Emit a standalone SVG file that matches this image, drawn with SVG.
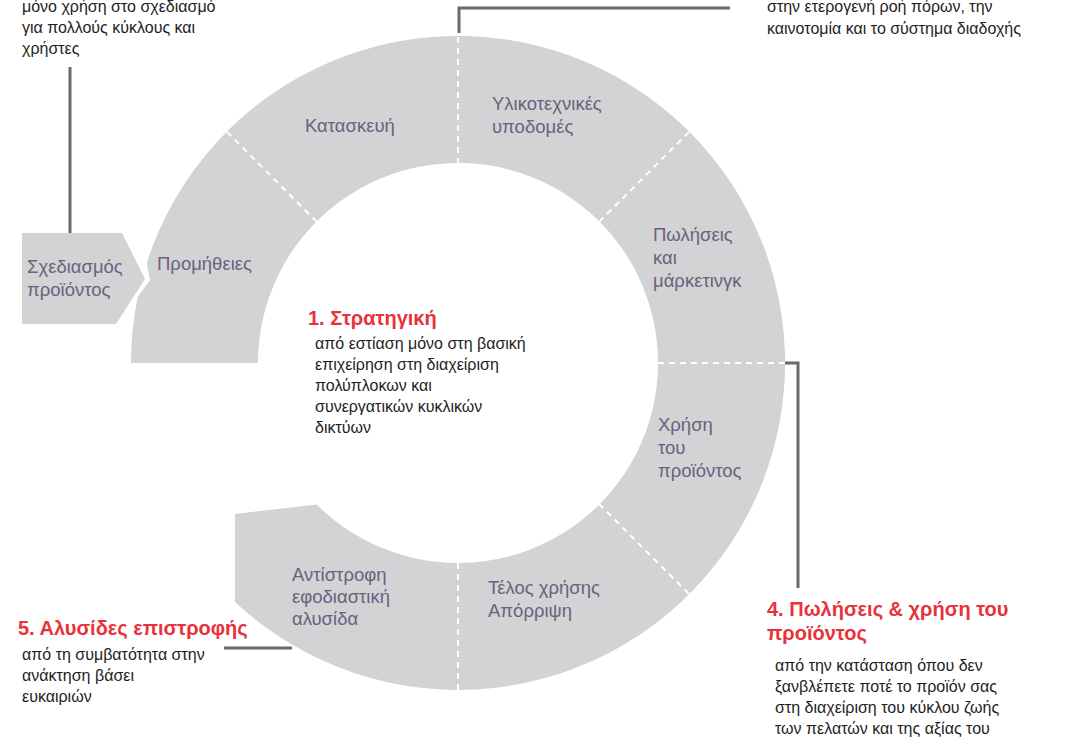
<svg xmlns="http://www.w3.org/2000/svg" width="1079" height="737" viewBox="0 0 1079 737">
<style>
.shape{fill:#d1d3d4;}
.div{stroke:#ffffff;stroke-width:2;stroke-dasharray:6 5;fill:none;}
.con{stroke:#6a6a6a;stroke-width:3;fill:none;}
.lbl{font-family:"Liberation Sans",Arial,sans-serif;font-size:18.5px;fill:#6e5f7e;}
.body{font-family:"Liberation Sans",Arial,sans-serif;font-size:16px;fill:#1e1e1e;}
.head{font-family:"Liberation Sans",Arial,sans-serif;font-size:20px;font-weight:bold;fill:#e8323a;}
</style>
<rect width="1079" height="737" fill="#ffffff"/>
<g id="ring">
<path class="shape" d="M131,363 A327,327 0 0 1 137.7,297 L150,280 L146.7,263 A327,327 0 1 1 235,602 L235,514 L316.6,504.4 A200,200 0 1 0 258,363 Z"/>
<line class="div" x1="458" y1="37" x2="458" y2="163"/>
<line class="div" x1="227" y1="132" x2="317" y2="222"/>
<line class="div" x1="689" y1="132" x2="599" y2="222"/>
<line class="div" x1="658" y1="363" x2="785" y2="363"/>
<line class="div" x1="599" y1="504" x2="689" y2="594"/>
<line class="div" x1="458" y1="563" x2="458" y2="690"/>
</g>
<g id="design">
<polygon class="shape" points="22,233 122,233 145,279 116,324 22,324"/>
<text class="lbl"><tspan x="27" y="273">Σχεδιασμός</tspan><tspan x="27" y="296">προϊόντος</tspan></text>
</g>
<g id="supply"><text class="lbl" x="157" y="270">Προμήθειες</text></g>
<g id="manufacture"><text class="lbl" x="305" y="132">Κατασκευή</text></g>
<g id="logistics"><text class="lbl"><tspan x="492" y="110">Υλικοτεχνικές</tspan><tspan x="492" y="133">υποδομές</tspan></text></g>
<g id="sales"><text class="lbl"><tspan x="653" y="241">Πωλήσεις</tspan><tspan x="653" y="264">και</tspan><tspan x="653" y="287">μάρκετινγκ</tspan></text></g>
<g id="use"><text class="lbl"><tspan x="658" y="431">Χρήση</tspan><tspan x="658" y="454">του</tspan><tspan x="658" y="477">προϊόντος</tspan></text></g>
<g id="endofuse"><text class="lbl"><tspan x="488" y="594">Τέλος χρήσης</tspan><tspan x="488" y="617">Απόρριψη</tspan></text></g>
<g id="reverse"><text class="lbl"><tspan x="292" y="581">Αντίστροφη</tspan><tspan x="292" y="603">εφοδιαστική</tspan><tspan x="292" y="625">αλυσίδα</tspan></text></g>
<g id="connectors">
<path class="con" d="M70,67 V233"/>
<path class="con" d="M459,33 V8 H730"/>
<path class="con" d="M785,363 H798 V588"/>
<path class="con" d="M224,648 H292"/>
</g>
<g id="note-design">
<text class="body"><tspan x="22" y="12">μόνο χρήση στο σχεδιασμό</tspan><tspan x="22" y="33">για πολλούς κύκλους και</tspan><tspan x="22" y="54">χρήστες</tspan></text>
</g>
<g id="note-logistics">
<text class="body"><tspan x="767" y="12">στην ετερογενή ροή πόρων, την</tspan><tspan x="767" y="34">καινοτομία και το σύστημα διαδοχής</tspan></text>
</g>
<g id="strategy">
<text class="head" x="308" y="325">1. Στρατηγική</text>
<text class="body"><tspan x="315" y="349">από εστίαση μόνο στη βασική</tspan><tspan x="315" y="370">επιχείρηση στη διαχείριση</tspan><tspan x="315" y="391">πολύπλοκων και</tspan><tspan x="315" y="412">συνεργατικών κυκλικών</tspan><tspan x="315" y="433">δικτύων</tspan></text>
</g>
<g id="return-chains">
<text class="head" x="18" y="635">5. Αλυσίδες επιστροφής</text>
<text class="body"><tspan x="22" y="660">από τη συμβατότητα στην</tspan><tspan x="22" y="681">ανάκτηση βάσει</tspan><tspan x="22" y="702">ευκαιριών</tspan></text>
</g>
<g id="sales-use">
<text class="head"><tspan x="767" y="616">4. Πωλήσεις &amp; χρήση του</tspan><tspan x="767" y="640">προϊόντος</tspan></text>
<text class="body"><tspan x="775" y="671">από την κατάσταση όπου δεν</tspan><tspan x="775" y="692">ξανβλέπετε ποτέ το προϊόν σας</tspan><tspan x="775" y="713">στη διαχείριση του κύκλου ζωής</tspan><tspan x="775" y="734">των πελατών και της αξίας του</tspan></text>
</g>
</svg>
